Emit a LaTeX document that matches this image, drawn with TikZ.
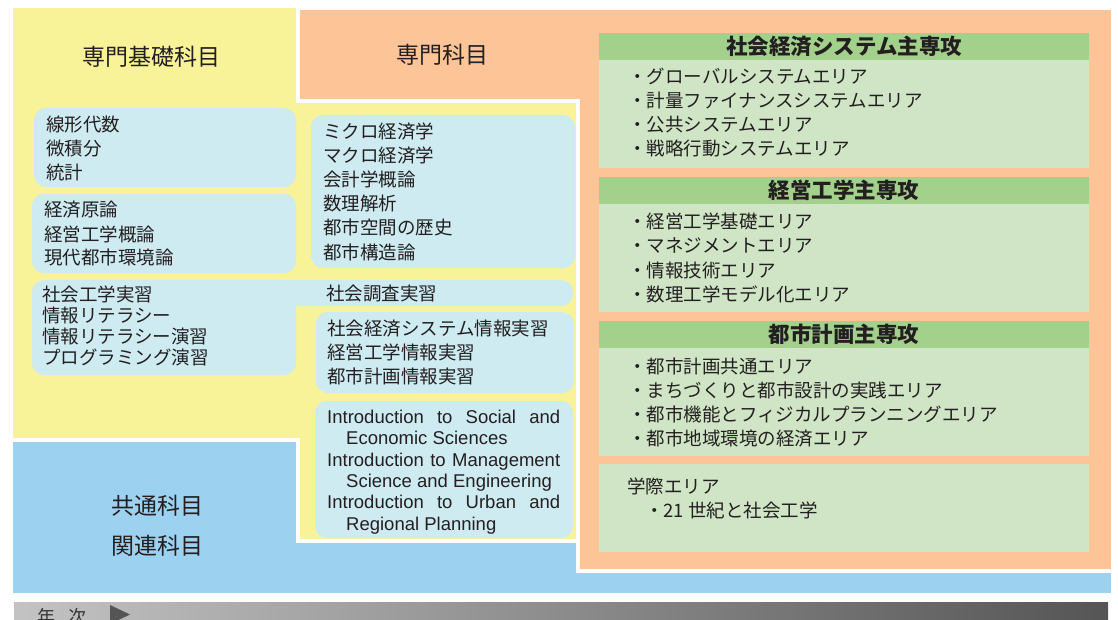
\documentclass[tikz,border=0pt]{standalone}
\usepackage{fontspec}
\setmainfont{Noto Sans CJK JP}
\newfontfamily\latinfont{Liberation Sans}
\usepackage{xcolor}
\usetikzlibrary{calc}

\definecolor{kisoyellow}{HTML}{F8F298}
\definecolor{senmonorange}{HTML}{FCC497}
\definecolor{kyotsublue}{HTML}{9DD1F0}
\definecolor{boxblue}{HTML}{CFEBF2}
\definecolor{headgreen}{HTML}{A3D08B}
\definecolor{bodygreen}{HTML}{CFE5C5}
\definecolor{inkgray}{HTML}{231F20}
\definecolor{barlight}{HTML}{C3C3C3}
\definecolor{bardark}{HTML}{555555}

\begin{document}
\begin{tikzpicture}[x=1pt,y=-1pt,
    region/.style={draw=white,line width=4pt,line join=miter},
    subjbox/.style={fill=boxblue,rounded corners=12pt},
    course/.style={anchor=base west,inner sep=0pt,text=inkgray,font=\fontsize{18.5}{20}\selectfont},
    eng/.style={anchor=base west,inner sep=0pt,text=inkgray,font=\latinfont\fontsize{18.5}{20}\selectfont},
    title/.style={anchor=base,inner sep=0pt,text=inkgray,font=\fontsize{23}{26}\selectfont},
    majorhead/.style={fill=headgreen,anchor=north west,minimum width=490pt,minimum height=27pt,inner sep=0pt,text=inkgray,font=\bfseries\fontsize{21.5}{24}\selectfont},
    majorbody/.style={fill=bodygreen}]

        % fix the picture size
        \useasboundingbox (0,0) rectangle (1118,620);
        \clip (0,0) rectangle (1118,620);

        % draw the three regions
        \filldraw[region,fill=kisoyellow] (11,6) -- (298,6) -- (298,101.5) -- (578,101.5)
            -- (578,541) -- (298,541) -- (298,440) -- (11,440) -- cycle;
        \filldraw[region,fill=senmonorange] (298,8) -- (1113,8) -- (1113,571) -- (578,571)
            -- (578,101.5) -- (298,101.5) -- cycle;
        \filldraw[region,fill=kyotsublue] (11,440) -- (298,440) -- (298,541) -- (578,541)
            -- (578,571) -- (1113,571) -- (1113,595) -- (11,595) -- cycle;

        % region titles
        \node[title] (kiso) at (151,66) {専門基礎科目};
        \node[title] (senmon) at (442,64) {専門科目};
        \node[title] (kyotsu) at (157,514) {共通科目};
        \node[title] (kanren) at (157,554) {関連科目};

        % light blue subject boxes
        \fill[subjbox] (34,108) rectangle (296,187);
        \fill[subjbox] (32,194) rectangle (296,273);
        \fill[subjbox] (32,280) rectangle (296,375);
        \fill[subjbox] (200,280) rectangle (573,306);
        \fill[subjbox] (311,115) rectangle (575,268);
        \fill[subjbox] (316,312) rectangle (574,393);
        \fill[subjbox] (315,401) rectangle (573,538);

        % subjects of the first column
        \foreach \t [count=\i] in {線形代数,微積分,統計}
                \node[course] (math\i) at (46,132+24*\i-24) {\t};
        \foreach \t [count=\i] in {経済原論,経営工学概論,現代都市環境論}
                \node[course] (intro\i) at (44,217+24*\i-24) {\t};
        \foreach \t [count=\i] in {社会工学実習,情報リテラシー,情報リテラシー演習,プログラミング演習}
                \node[course] (prac\i) at (42,301+21.3*\i-21.3) {\t};

        % subjects of the second column
        \foreach \t [count=\i] in {ミクロ経済学,マクロ経済学,会計学概論,数理解析,都市空間の歴史,都市構造論}
                \node[course] (core\i) at (323,139+24*\i-24) {\t};
        \node[course] (survey) at (326,300) {社会調査実習};
        \foreach \t [count=\i] in {社会経済システム情報実習,経営工学情報実習,都市計画情報実習}
                \node[course] (info\i) at (327,335+24*\i-24) {\t};

        % english lectures
        \node[eng] (eng1) at (327,423.5) {\makebox[233pt][s]{Introduction to Social and}};
        \node[eng] (eng2) at (346,444.8) {Economic Sciences};
        \node[eng] (eng3) at (327,466.1) {\makebox[233pt][s]{Introduction to Management}};
        \node[eng] (eng4) at (346,487.4) {Science and Engineering};
        \node[eng] (eng5) at (327,508.7) {\makebox[233pt][s]{Introduction to Urban and}};
        \node[eng] (eng6) at (346,530) {Regional Planning};

        % the major programs
        \foreach \y/\h/\b/\name in {33/社会経済システム主専攻/168/shakai,
                                    177/経営工学主専攻/312/keiei,
                                    321/都市計画主専攻/456/toshi} {
                \fill[majorbody] (599,\y) rectangle (1089,\b);
                \node[majorhead] (\name) at (599,\y) {\h};
        }
        \fill[majorbody] (599,464) rectangle (1089,552);

        % areas of each major
        \foreach \t [count=\i] in {グローバルシステムエリア,計量ファイナンスシステムエリア,公共システムエリア,戦略行動システムエリア}
                \node[course] (shakai\i) at (628,84+24*\i-24) {・\t};
        \foreach \t [count=\i] in {経営工学基礎エリア,マネジメントエリア,情報技術エリア,数理工学モデル化エリア}
                \node[course] (keiei\i) at (628,229+24*\i-24) {・\t};
        \foreach \t [count=\i] in {都市計画共通エリア,まちづくりと都市設計の実践エリア,都市機能とフィジカルプランニングエリア,都市地域環境の経済エリア}
                \node[course] (toshi\i) at (628,373+24*\i-24) {・\t};
        \node[course] (gakusai) at (627,493) {学際エリア};
        \node[course] (gakusai1) at (645,517) {・21 世紀と社会工学};

        % the year bar
        \shade[left color=barlight,right color=bardark] (14,602) rectangle (1108,630);
        \node[anchor=base west,inner sep=0pt,text=inkgray!90,font=\fontsize{18}{20}\selectfont] (nenji) at (37,623) {年\hspace{13pt}次};
        \fill[bardark] (110,605) -- (130,614.5) -- (110,624) -- cycle;
\end{tikzpicture}
\end{document}
